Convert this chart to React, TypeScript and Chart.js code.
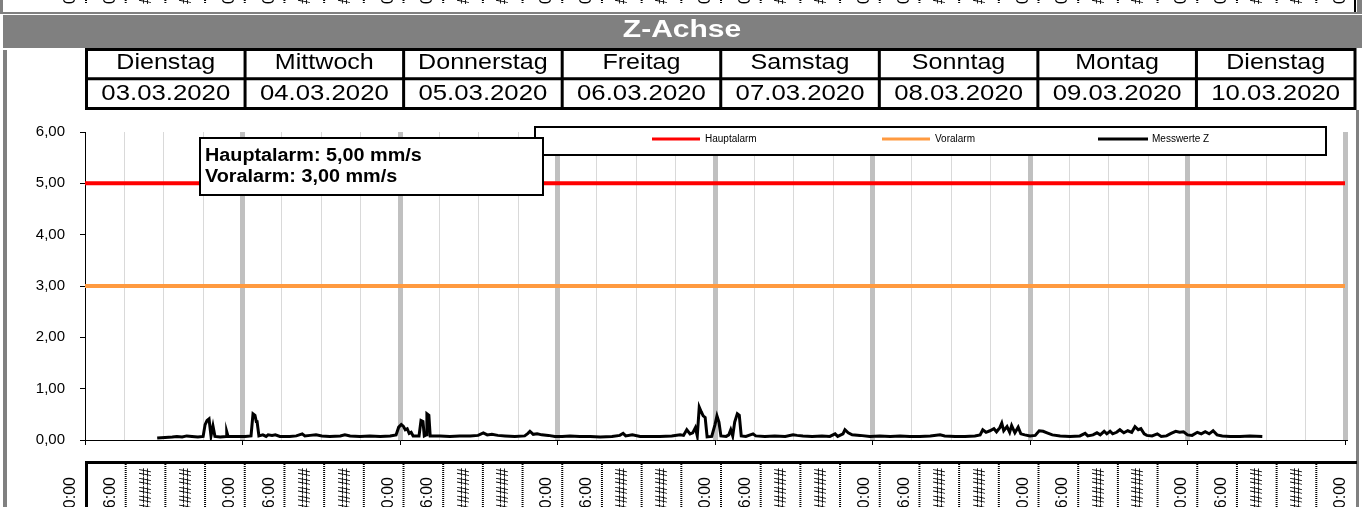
import { useEffect, useRef } from "react";
import { Chart, registerables } from "chart.js";

Chart.register(...registerables);

// ---------- data ----------
const chartTitle = "Z-Achse";
const dayNames = ["Dienstag", "Mittwoch", "Donnerstag", "Freitag", "Samstag", "Sonntag", "Montag", "Dienstag"];
const dayDates = ["03.03.2020", "04.03.2020", "05.03.2020", "06.03.2020", "07.03.2020", "08.03.2020", "09.03.2020", "10.03.2020"];
const bandLabels = ["00:00", "06:00", "########", "########"];
const infoLines = ["Hauptalarm: 5,00 mm/s", "Voralarm: 3,00 mm/s"];

const yMin = 0;
const yMax = 6;
const yStep = 1;
const xMaxHours = 192; // 8 days
const gridStepHours = 6;

const seriesLabels = ["Hauptalarm", "Voralarm", "Messwerte Z"];
const seriesColors = ["#ff0000", "#ff9a40", "#000000"];
const hauptalarmValue = 5;
const voralarmValue = 3;

// hours since 03.03.2020 00:00
const messHours = [
  11.0, 12.2, 13.3, 14.0, 14.8, 15.5, 16.3, 17.2, 18.0, 18.3, 18.6, 18.9, 19.2, 19.5, 19.8, 20.6, 21.5, 21.6, 21.8, 22.9,
  24.4, 25.3, 25.6, 25.9, 26.1, 26.2, 26.5, 27.1, 27.6, 27.9, 28.5, 29.0, 29.7, 31.2, 32.2, 33.1, 33.5, 34.3, 35.2, 36.1,
  37.3, 38.9, 39.6, 40.4, 41.9, 43.4, 45.0, 46.5, 47.4, 47.8, 48.2, 48.5, 48.8, 49.1, 49.4, 49.7, 50.0, 50.9, 51.2, 51.5,
  51.7, 52.0, 52.1, 52.4, 52.6, 54.1, 55.6, 57.1, 58.7, 59.9, 60.7, 61.3, 62.0, 62.9, 64.0, 65.5, 67.0, 67.5, 67.8, 68.3,
  68.9, 69.6, 70.6, 71.6, 72.7, 73.9, 75.4, 77.0, 78.5, 80.3, 81.5, 82.0, 82.4, 83.4, 84.6, 86.1, 87.6, 89.4, 90.7, 91.2,
  91.7, 92.2, 92.6, 93.0, 93.3, 93.6, 93.9, 94.2, 94.5, 94.8, 95.5, 96.0, 96.3, 96.6, 96.9, 97.7, 98.1, 98.4, 98.7, 99.0,
  99.4, 99.7, 100.0, 100.7, 101.8, 102.2, 103.6, 105.1, 106.7, 107.9, 108.5, 109.4, 110.8, 112.3, 113.5, 114.3, 114.7, 115.5, 115.8, 116.3,
  116.9, 118.1, 119.6, 121.1, 122.7, 124.2, 125.7, 127.2, 128.8, 130.3, 131.0, 132.6, 134.1, 135.6, 136.4, 136.8, 137.3, 137.9, 138.5, 138.9,
  139.4, 139.7, 140.0, 140.5, 140.9, 141.2, 141.7, 142.2, 142.6, 143.2, 144.0, 144.8, 145.4, 146.0, 146.6, 147.4, 148.6, 150.1, 151.6, 152.4,
  152.8, 153.6, 154.2, 154.7, 155.3, 155.7, 156.2, 156.6, 157.2, 157.7, 158.3, 158.9, 159.5, 160.0, 160.5, 160.9, 161.4, 161.8, 162.6, 163.4,
  164.0, 164.8, 165.5, 166.2, 166.8, 167.4, 168.0, 168.7, 169.5, 170.1, 170.7, 171.3, 171.9, 172.5, 173.3, 174.5, 176.0, 177.5, 179.4,
];
const messValues = [
  0.04, 0.05, 0.06, 0.07, 0.06, 0.08, 0.07, 0.06, 0.07, 0.30, 0.38, 0.41, 0.08, 0.27, 0.07, 0.06, 0.07, 0.16, 0.07, 0.07,
  0.07, 0.08, 0.51, 0.48, 0.36, 0.38, 0.08, 0.10, 0.07, 0.10, 0.09, 0.10, 0.07, 0.07, 0.08, 0.12, 0.08, 0.09, 0.10, 0.08,
  0.07, 0.08, 0.10, 0.08, 0.07, 0.08, 0.07, 0.08, 0.10, 0.25, 0.30, 0.27, 0.20, 0.22, 0.13, 0.15, 0.08, 0.08, 0.38, 0.36,
  0.08, 0.10, 0.51, 0.48, 0.08, 0.08, 0.07, 0.08, 0.08, 0.09, 0.14, 0.10, 0.11, 0.09, 0.08, 0.07, 0.08, 0.13, 0.17, 0.11,
  0.12, 0.10, 0.09, 0.07, 0.07, 0.08, 0.07, 0.07, 0.06, 0.07, 0.09, 0.13, 0.08, 0.10, 0.07, 0.07, 0.07, 0.08, 0.10, 0.09,
  0.20, 0.12, 0.14, 0.24, 0.08, 0.64, 0.55, 0.47, 0.44, 0.06, 0.07, 0.30, 0.47, 0.35, 0.08, 0.07, 0.10, 0.20, 0.08, 0.35,
  0.51, 0.48, 0.08, 0.07, 0.12, 0.08, 0.07, 0.08, 0.07, 0.10, 0.09, 0.08, 0.07, 0.08, 0.07, 0.12, 0.07, 0.12, 0.20, 0.14,
  0.10, 0.09, 0.07, 0.08, 0.07, 0.08, 0.07, 0.07, 0.08, 0.10, 0.08, 0.07, 0.07, 0.08, 0.10, 0.20, 0.15, 0.18, 0.22, 0.16,
  0.24, 0.33, 0.18, 0.26, 0.15, 0.28, 0.14, 0.25, 0.12, 0.10, 0.08, 0.09, 0.18, 0.17, 0.14, 0.10, 0.08, 0.07, 0.08, 0.13,
  0.08, 0.10, 0.14, 0.10, 0.17, 0.12, 0.17, 0.12, 0.15, 0.20, 0.14, 0.18, 0.15, 0.26, 0.20, 0.22, 0.12, 0.09, 0.08, 0.12,
  0.07, 0.08, 0.13, 0.17, 0.15, 0.16, 0.10, 0.09, 0.15, 0.12, 0.16, 0.12, 0.18, 0.10, 0.08, 0.07, 0.07, 0.08, 0.07,
];

// ---------- helpers ----------
const FONT = '"Liberation Sans", Arial, sans-serif';

function stretchText(c: CanvasRenderingContext2D, text: string, x: number, y: number, sx: number, align: CanvasTextAlign) {
  c.save();
  c.translate(x, y);
  c.scale(sx, 1);
  c.textAlign = align;
  c.fillText(text, 0, 0);
  c.restore();
}

function rotText(c: CanvasRenderingContext2D, text: string, x: number, y: number, align: CanvasTextAlign) {
  c.save();
  c.translate(x, y);
  c.rotate(-Math.PI / 2);
  c.textAlign = align;
  c.textBaseline = "alphabetic";
  c.fillText(text, 0, 0);
  c.restore();
}

const decor = {
  id: "decor",
  beforeDraw(chart: any) {
    const c: CanvasRenderingContext2D = chart.ctx;
    c.save();
    c.fillStyle = "#ffffff";
    c.fillRect(0, 0, chart.width, chart.height);
    c.restore();
  },
  afterDraw(chart: any) {
    const c: CanvasRenderingContext2D = chart.ctx;
    const W = chart.width;
    c.save();

    // band geometry (6h cells) shared by the strips
    const bandLeft = 86;
    const bandRight = 1356;
    const cell = (bandRight - bandLeft) / 32;

    // ---- top strip (bottom of a band from a chart above) ----
    c.save();
    c.beginPath();
    c.rect(0, 0, W, 12);
    c.clip();
    c.fillStyle = "#000";
    c.font = `16px ${FONT}`;
    for (let j = 0; j <= 32; j++) {
      const b = bandLeft + cell * j;
      const lab = bandLabels[j % 4];
      const isTime = j % 4 < 2;
      const cx = b - (isTime ? 16.5 : 20);
      rotText(c, lab, cx + 5.7, 4, "left");
    }
    c.strokeStyle = "#000";
    c.lineWidth = 2;
    c.setLineDash([1, 1]);
    for (let j = 0; j < 32; j++) {
      const b = bandLeft + cell * j;
      c.beginPath();
      c.moveTo(b, 0);
      c.lineTo(b, 3);
      c.stroke();
    }
    c.setLineDash([]);
    c.restore();
    c.fillStyle = "#808080";
    c.fillRect(0, 0, 3, 14);
    c.fillRect(1357, 0, W - 1357, 14);
    c.fillRect(0, 12, W, 2);
    c.fillStyle = "#000";
    c.fillRect(1354, 0, 2, 12);

    // ---- title bar ----
    c.fillStyle = "#808080";
    c.fillRect(3, 15, W - 3, 33);
    c.fillStyle = "#ffffff";
    c.font = `bold 24px ${FONT}`;
    c.textBaseline = "middle";
    stretchText(c, chartTitle, 682, 30, 1.25, "center");

    // ---- header table ----
    const tLeft = 86.5;
    const tRight = 1355;
    const colW = (tRight - tLeft) / dayNames.length;
    c.strokeStyle = "#000";
    c.lineWidth = 3;
    c.strokeRect(tLeft, 49.5, tRight - tLeft, 59);
    c.beginPath();
    c.moveTo(tLeft, 78.7);
    c.lineTo(tRight, 78.7);
    for (let i = 1; i < dayNames.length; i++) {
      c.moveTo(tLeft + colW * i, 49.5);
      c.lineTo(tLeft + colW * i, 108.5);
    }
    c.stroke();
    c.fillStyle = "#000";
    c.font = `22px ${FONT}`;
    c.textBaseline = "alphabetic";
    for (let i = 0; i < dayNames.length; i++) {
      const cx = tLeft + colW * (i + 0.5);
      stretchText(c, dayNames[i], cx, 69, 1.14, "center");
      stretchText(c, dayDates[i], cx, 100, 1.17, "center");
    }

    // ---- frame bars ----
    c.fillStyle = "#808080";
    c.fillRect(3, 50, 4, chart.height - 50);
    c.fillRect(1356, 110, 3, chart.height - 110);

    // ---- bottom band ----
    c.fillStyle = "#000";
    c.fillRect(85, 461, 1357 - 85, 3);
    c.fillRect(85, 461, 3, chart.height - 461);
    c.strokeStyle = "#000";
    c.lineWidth = 2;
    c.setLineDash([1, 1]);
    for (let j = 1; j < 32; j++) {
      const b = bandLeft + cell * j;
      c.beginPath();
      c.moveTo(b, 464);
      c.lineTo(b, chart.height);
      c.stroke();
    }
    c.setLineDash([]);
    c.font = `16px ${FONT}`;
    c.fillStyle = "#000";
    for (let j = 0; j <= 32; j++) {
      const b = bandLeft + cell * j;
      const lab = bandLabels[j % 4];
      const isTime = j % 4 < 2;
      const cx = b - (isTime ? 16.5 : 20);
      rotText(c, lab, cx + 5.7, isTime ? 477 : 468, "right");
    }

    // ---- legend box ----
    const ds = chart.data.datasets;
    c.fillStyle = "#ffffff";
    c.fillRect(535, 127, 791, 28);
    c.strokeStyle = "#000";
    c.lineWidth = 2;
    c.strokeRect(535, 127, 791, 28);
    const legendItems = [
      { x1: 652, x2: 700, tx: 705 },
      { x1: 882, x2: 930, tx: 935 },
      { x1: 1098, x2: 1148, tx: 1152 },
    ];
    c.font = `10px ${FONT}`;
    c.textBaseline = "middle";
    c.textAlign = "left";
    legendItems.forEach((it, i) => {
      c.strokeStyle = ds[i].borderColor;
      c.lineWidth = 3;
      c.beginPath();
      c.moveTo(it.x1, 139);
      c.lineTo(it.x2, 139);
      c.stroke();
      c.fillStyle = "#000";
      c.fillText(ds[i].label, it.tx, 139.5);
    });

    // ---- info box ----
    c.fillStyle = "#ffffff";
    c.fillRect(200, 138, 343, 57);
    c.strokeStyle = "#000";
    c.lineWidth = 2;
    c.strokeRect(200, 138, 343, 57);
    c.fillStyle = "#000";
    c.font = `bold 18px ${FONT}`;
    c.textBaseline = "alphabetic";
    stretchText(c, infoLines[0], 205, 160.5, 1.1, "left");
    stretchText(c, infoLines[1], 205, 181.5, 1.1, "left");

    c.restore();
  },
};

export default function App() {
  const ref = useRef<HTMLCanvasElement>(null);

  useEffect(() => {
    document.body.style.margin = "0";
    Chart.defaults.font.family = FONT;
    const chart = new Chart(ref.current as HTMLCanvasElement, {
      type: "line",
      data: {
        datasets: [
          {
            label: seriesLabels[0],
            data: [
              { x: 0, y: hauptalarmValue },
              { x: xMaxHours, y: hauptalarmValue },
            ],
            borderColor: seriesColors[0],
            borderWidth: 4,
            pointRadius: 0,
          },
          {
            label: seriesLabels[1],
            data: [
              { x: 0, y: voralarmValue },
              { x: xMaxHours, y: voralarmValue },
            ],
            borderColor: seriesColors[1],
            borderWidth: 4,
            pointRadius: 0,
          },
          {
            label: seriesLabels[2],
            data: messHours.map((h, i) => ({ x: h, y: messValues[i] })),
            borderColor: seriesColors[2],
            borderWidth: 3,
            pointRadius: 0,
            tension: 0,
          },
        ],
      },
      options: {
        animation: false,
        responsive: false,
        maintainAspectRatio: false,
        devicePixelRatio: 1,
        layout: { padding: { left: 0, top: 132, right: 17, bottom: 0 } },
        plugins: { legend: { display: false }, title: { display: false }, tooltip: { enabled: false } },
        scales: {
          x: {
            type: "linear",
            min: 0,
            max: xMaxHours,
            ticks: { stepSize: gridStepHours, display: false },
            grid: {
              color: (ctx: any) => {
                const v = ctx.tick ? ctx.tick.value : 0;
                if (v === 0) return "rgba(0,0,0,0)";
                return v % 24 === 0 ? "#c0c0c0" : "#d9d9d9";
              },
              lineWidth: (ctx: any) => {
                const v = ctx.tick ? ctx.tick.value : 0;
                return v % 24 === 0 ? 5 : 1;
              },
              drawTicks: true,
              tickLength: 5,
              tickWidth: 1,
              tickColor: (ctx: any) => {
                const v = ctx.tick ? ctx.tick.value : 0;
                return v % 24 === 0 ? "#000" : "rgba(0,0,0,0)";
              },
            },
            border: { color: "#000", width: 1 },
            afterFit: (s: any) => {
              s.height = 507 - 440;
            },
          },
          y: {
            min: yMin,
            max: yMax,
            ticks: {
              stepSize: yStep,
              color: "#000",
              font: { size: 15, family: FONT },
              padding: 15,
              callback: (v: any) => Number(v).toFixed(2).replace(".", ","),
            },
            grid: { drawOnChartArea: false, drawTicks: true, tickLength: 5, tickColor: "#000" },
            border: { color: "#000", width: 1 },
            afterFit: (s: any) => {
              s.width = 85;
            },
          },
        },
      },
      plugins: [decor],
    } as any);
    return () => chart.destroy();
  }, []);

  return (
    <div style={{ position: "absolute", left: 0, top: 0, width: 1362, height: 507 }}>
      <canvas ref={ref} width={1362} height={507} style={{ display: "block", width: 1362, height: 507 }} />
    </div>
  );
}
